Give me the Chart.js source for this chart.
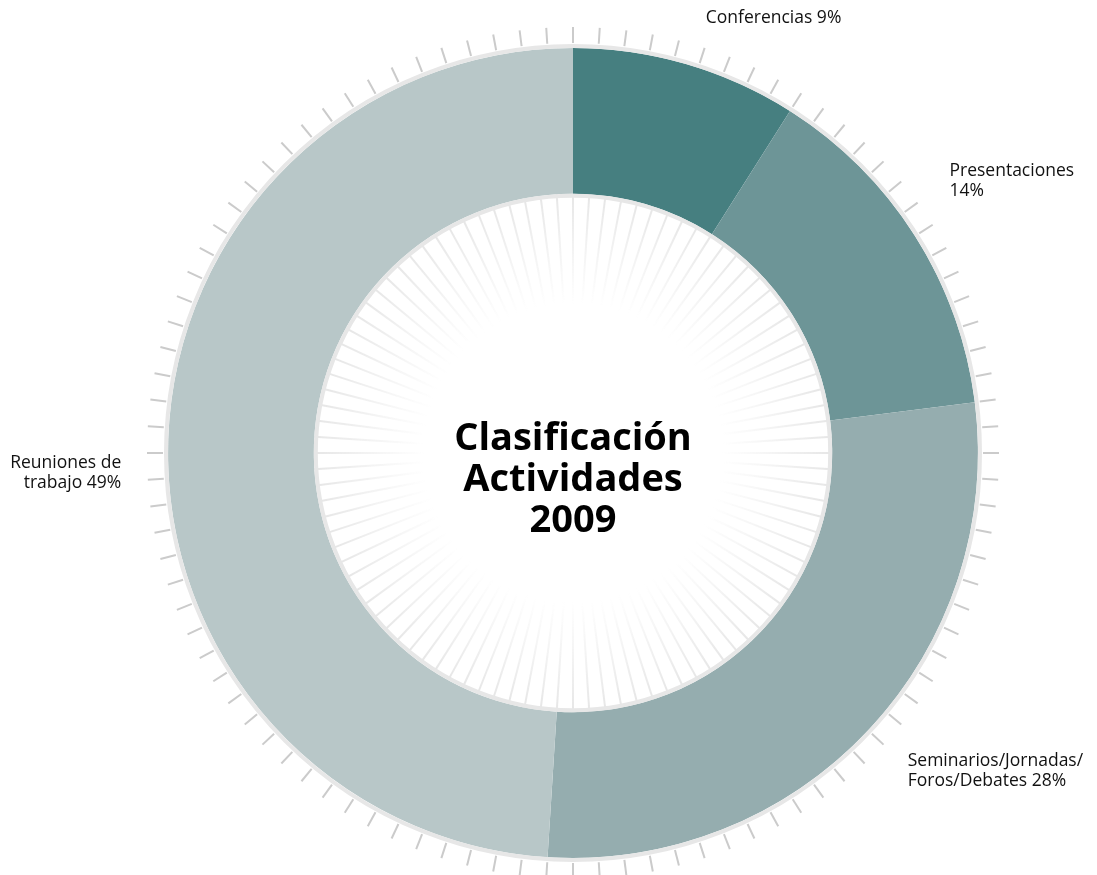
<!DOCTYPE html>
<html>
<head>
<meta charset="utf-8">
<script src="https://cdn.jsdelivr.net/npm/chart.js@4/dist/chart.umd.min.js"></script>
<style>
  html, body { margin: 0; padding: 0; background: #fff; }
  #wrap { width: 1097px; height: 875px; position: relative; }
</style>
</head>
<body>
<div id="wrap"><canvas id="donut"></canvas></div>
<script>
// datos del gráfico
const categories = ['Conferencias', 'Presentaciones', 'Seminarios/Jornadas/Foros/Debates', 'Reuniones de trabajo'];
const labelLines = [
  ['Conferencias 9%'],
  ['Presentaciones', '14%'],
  ['Seminarios/Jornadas/', 'Foros/Debates 28%'],
  ['Reuniones de', 'trabajo 49%']
];
const percents = [9, 14, 28, 49];
const sliceColors = ['#467f80', '#6d9597', '#95adaf', '#b8c7c8'];
const titleLines = ['Clasificación', 'Actividades', '2009'];

// ajustes de las etiquetas (alineación y desplazamiento respecto al ángulo medio)
const labelAlign = ['left', 'left', 'left', 'right'];
const labelShift = [[10, -12], [5, -46], [14, 7], [-12, 24]];

const FONT = '"Open Sans", "Noto Sans", sans-serif';

const decoPlugin = {
  id: 'deco',
  beforeDatasetsDraw(chart) {
    const ctx = chart.ctx;
    const arc = chart.getDatasetMeta(0).data[0];
    const cx = arc.x, cy = arc.y;
    const rOut = arc.outerRadius, rIn = arc.innerRadius;
    ctx.save();
    // radios interiores que se desvanecen
    const grad = ctx.createRadialGradient(cx, cy, rIn - 110, cx, cy, rIn);
    grad.addColorStop(0, 'rgba(232,232,232,0)');
    grad.addColorStop(1, 'rgba(230,230,230,1)');
    ctx.strokeStyle = grad;
    ctx.lineWidth = 2;
    for (let i = 0; i < 100; i++) {
      const a = i * Math.PI * 2 / 100;
      ctx.beginPath();
      ctx.moveTo(cx + Math.sin(a) * (rIn - 110), cy - Math.cos(a) * (rIn - 110));
      ctx.lineTo(cx + Math.sin(a) * rIn, cy - Math.cos(a) * rIn);
      ctx.stroke();
    }
    // marcas exteriores
    ctx.strokeStyle = '#cbcbcb';
    ctx.lineWidth = 2;
    for (let i = 0; i < 100; i++) {
      const a = i * Math.PI * 2 / 100;
      ctx.beginPath();
      ctx.moveTo(cx + Math.sin(a) * (rOut + 5), cy - Math.cos(a) * (rOut + 5));
      ctx.lineTo(cx + Math.sin(a) * (rOut + 21), cy - Math.cos(a) * (rOut + 21));
      ctx.stroke();
    }
    ctx.restore();
  },
  afterDatasetsDraw(chart) {
    const ctx = chart.ctx;
    const meta = chart.getDatasetMeta(0);
    const arc = meta.data[0];
    const cx = arc.x, cy = arc.y;
    const rOut = arc.outerRadius, rIn = arc.innerRadius;
    ctx.save();
    // anillos grises
    ctx.strokeStyle = '#e7e7e7';
    ctx.lineWidth = 4;
    ctx.beginPath();
    ctx.arc(cx, cy, rOut + 2, 0, Math.PI * 2);
    ctx.stroke();
    ctx.beginPath();
    ctx.arc(cx, cy, rIn - 2, 0, Math.PI * 2);
    ctx.stroke();

    // título central
    ctx.fillStyle = '#000';
    ctx.font = 'bold 38px ' + FONT;
    ctx.textAlign = 'center';
    ctx.textBaseline = 'middle';
    titleLines.forEach((t, i) => ctx.fillText(t, cx, cy + 27 + (i - 1) * 41));

    // etiquetas
    ctx.font = '17.5px ' + FONT;
    ctx.fillStyle = '#111';
    meta.data.forEach((el, i) => {
      const mid = (el.startAngle + el.endAngle) / 2;
      const R = rOut + 35;
      const x = cx + Math.cos(mid) * R + labelShift[i][0];
      const y = cy + Math.sin(mid) * R + labelShift[i][1];
      ctx.textAlign = labelAlign[i];
      labelLines[i].forEach((line, j) => ctx.fillText(line, x, y + j * 19.5));
    });
    ctx.restore();
  }
};

new Chart(document.getElementById('donut').getContext('2d'), {
  type: 'doughnut',
  data: {
    labels: categories,
    datasets: [{
      data: percents,
      backgroundColor: sliceColors,
      borderWidth: 0,
      hoverOffset: 0
    }]
  },
  options: {
    responsive: true,
    maintainAspectRatio: false,
    animation: false,
    cutout: '64%',
    layout: { padding: { left: 168, right: 119, top: 48, bottom: 17 } },
    plugins: {
      legend: { display: false },
      tooltip: { enabled: false }
    }
  },
  plugins: [decoPlugin]
});
</script>
</body>
</html>
